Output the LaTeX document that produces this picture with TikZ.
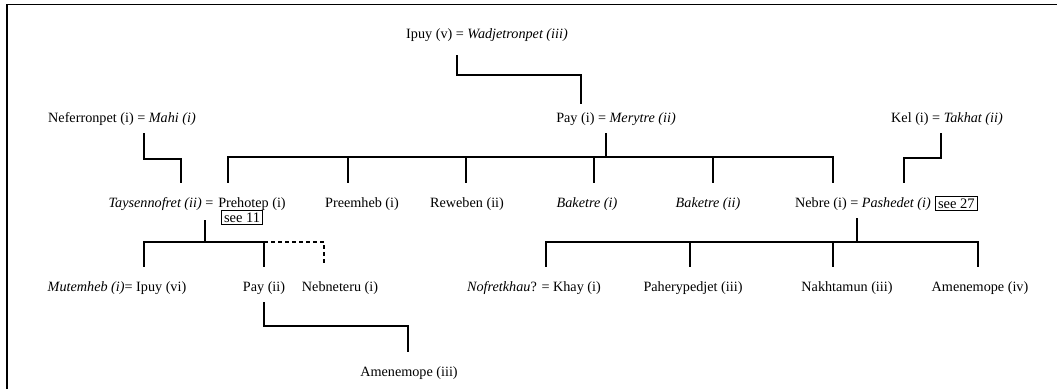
\documentclass[tikz,border=0pt]{standalone}
\usepackage{fontspec}
\setmainfont{Liberation Serif}
\usetikzlibrary{positioning}

\begin{document}
\begin{tikzpicture}[x=1pt, y=-1pt,
  person/.style={anchor=base, inner sep=0pt, font=\fontsize{14.2}{16}\selectfont},
  seebox/.style={draw, line width=1pt, inner xsep=2.5pt, inner ysep=2pt, font=\fontsize{14.5}{16}\selectfont},
  link/.style={line width=1.4pt},
  maybe/.style={link, dash pattern=on 4pt off 3pt}]
  \useasboundingbox (0,0) rectangle (1057,389);

  % frame, left and top only
  \draw[line width=1.6pt] (7,389) |- (1057,4.5);

  % ===== first generation =====
  \node[person] (ipuy) at (487,38) {Ipuy (v) = \textit{Wadjetronpet (iii)}};

  % ===== second generation =====
  \node[person] (neferronpet) at (122,122) {Neferronpet (i) = \textit{Mahi (i)}};
  \node[person] (pay) at (616,122) {Pay (i) = \textit{Merytre (ii)}};
  \node[person] (kel) at (947,122) {Kel (i) = \textit{Takhat (ii)}};

  % ===== third generation =====
  \node[person] (taysennofret) at (161,207) {\textit{Taysennofret (ii)} =};
  \node[person] (prehotep) at (252,207) {Prehotep (i)};
  \node[seebox, below right=0pt and 3pt of prehotep.south west] (see11) {see 11};
  \node[person] (preemheb) at (362,207) {Preemheb (i)};
  \node[person] (reweben) at (467,207) {Reweben (ii)};
  \node[person] (baketreA) at (587,207) {\textit{Baketre (i)}};
  \node[person] (baketreB) at (708,207) {\textit{Baketre (ii)}};
  \node[person] (nebre) at (863,207) {Nebre (i) = \textit{Pashedet (i)}};
  \node[seebox, right=4pt of nebre] (see27) {see 27};

  % ===== fourth generation =====
  \node[person] (mutemheb) at (117,291) {\textit{Mutemheb (i)}= Ipuy (vi)};
  \node[person] (pay2) at (264,291) {Pay (ii)};
  \node[person] (nebneteru) at (340,291) {Nebneteru (i)};
  \node[person] (khay) at (534,291) {\textit{Nofretkhau}? = Khay (i)};
  \node[person] (paherypedjet) at (693,291) {Paherypedjet (iii)};
  \node[person] (nakhtamun) at (847,291) {Nakhtamun (iii)};
  \node[person] (amenemopeIV) at (980,291) {Amenemope (iv)};

  % ===== fifth generation =====
  \node[person] (amenemopeIII) at (409,376) {Amenemope (iii)};

  % ===== lines of descent =====
  \draw[link] ([shift={(-30,17)}]ipuy.base) -- ++(0,20) -| ([shift={(-35,-18)}]pay.base);
  \draw[link] ([shift={(22,11)}]neferronpet.base) -- ++(0,26) -| ([shift={(20,-24)}]taysennofret.base);
  \draw[link] ([shift={(-6,11)}]kel.base) -- ++(0,25) -| ([shift={(41,-24)}]nebre.base);

  % children of Pay (i)
  \coordinate (paybar) at ([shift={(-10,35)}]pay.base);
  \draw[link] ([shift={(-10,11)}]pay.base) -- (paybar);
  \foreach \kid/\dx in {prehotep/-24, preemheb/-14, reweben/-1, baketreA/7, baketreB/5, nebre/-30}
    \draw[link] (paybar) -| ([shift={(\dx,-24)}]\kid.base);

  % children of Prehotep (i)
  \coordinate (prebar) at ([shift={(44,35)}]taysennofret.base);
  \draw[link] ([shift={(44,13)}]taysennofret.base) -- (prebar);
  \foreach \kid/\dx in {mutemheb/27, pay2/0}
    \draw[link] (prebar) -| ([shift={(\dx,-24)}]\kid.base);
  \draw[maybe] (prebar -| pay2) -| ([shift={(-16,-26)}]nebneteru.base);

  % children of Nebre (i)
  \coordinate (nebbar) at ([shift={(-6,35)}]nebre.base);
  \draw[link] ([shift={(-6,11)}]nebre.base) -- (nebbar);
  \foreach \kid/\dx in {khay/12, paherypedjet/-3, nakhtamun/-14, amenemopeIV/-2}
    \draw[link] (nebbar) -| ([shift={(\dx,-24)}]\kid.base);

  % son of Pay (ii)
  \draw[link] ([shift={(0,11)}]pay2.base) -- ++(0,24) -| ([shift={(-1,-24)}]amenemopeIII.base);
\end{tikzpicture}
\end{document}
